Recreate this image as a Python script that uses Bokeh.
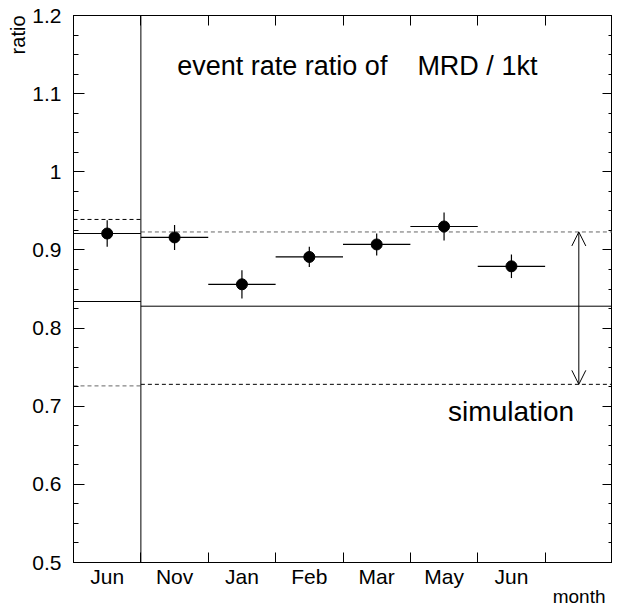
import numpy as np
from bokeh.plotting import figure
from bokeh.models import (Range1d, LinearAxis, FixedTicker, NumeralTickFormatter,
                          CustomJSTickFormatter, Span, Arrow, OpenHead, Label, Title)
from bokeh.embed import file_html
from bokeh.resources import INLINE

# ---------------- data ----------------
months = ["Jun", "Nov", "Jan", "Feb", "Mar", "May", "Jun"]
ratio = [0.921, 0.916, 0.856, 0.891, 0.907, 0.930, 0.879]
ratio_err = [0.017, 0.016, 0.018, 0.013, 0.014, 0.018, 0.015]

# simulation bands: first period (Jun) and later periods
period_start = [0, 1]
period_end = [1, 8]
sim_upper = [0.939, 0.923]
sim_central = [0.834, 0.828]
sim_lower = [0.726, 0.728]

y_ticks = [0.5, 0.6, 0.7, 0.8, 0.9, 1.0, 1.1, 1.2]

FONT = "Liberation Sans"

x = np.arange(len(months)) + 0.5
r = np.array(ratio)
e = np.array(ratio_err)

p = figure(width=612, height=606, x_range=Range1d(0, 8), y_range=Range1d(0.5, 1.2),
           output_backend="svg", toolbar_location=None,
           x_axis_type=None, y_axis_type=None,
           min_border_left=73, min_border_right=0, min_border_top=15, min_border_bottom=44)
p.xgrid.visible = False
p.ygrid.visible = False
p.outline_line_color = "black"
p.outline_line_width = 1
p.background_fill_color = "white"
p.border_fill_color = "white"

y_minor = list(np.round(np.arange(0.5, 1.2001, 0.025), 4))
bounds = list(range(1, 8))
blank = CustomJSTickFormatter(code="return ''")

# left axis
ly = LinearAxis(ticker=FixedTicker(ticks=y_ticks, minor_ticks=y_minor),
                formatter=NumeralTickFormatter(format="0.[0]"))
ly.major_tick_in = 11
ly.major_tick_out = 0
ly.minor_tick_in = 5
ly.minor_tick_out = 0
ly.major_label_standoff = 12
ly.major_label_text_font = FONT
ly.major_label_text_font_size = "21px"
ly.major_label_text_color = "black"
ly.axis_line_color = "black"
p.add_layout(ly, "left")

# right axis (ticks only)
ry = LinearAxis(ticker=FixedTicker(ticks=y_ticks, minor_ticks=y_minor), formatter=blank)
ry.major_tick_in = 10
ry.major_tick_out = 0
ry.minor_tick_in = 4
ry.minor_tick_out = 0
ry.major_label_standoff = 0
ry.major_label_text_font_size = "1px"
ry.axis_line_color = "black"
p.add_layout(ry, "right")

# bottom axis
bx = LinearAxis(ticker=FixedTicker(ticks=list(x), minor_ticks=bounds))
bx.major_label_overrides = {float(xx): m for xx, m in zip(x, months)}
bx.major_tick_in = 0
bx.major_tick_out = 0
bx.minor_tick_in = 10
bx.minor_tick_out = 0
bx.major_label_standoff = 2
bx.major_label_text_font = FONT
bx.major_label_text_font_size = "21px"
bx.major_label_text_color = "black"
bx.axis_line_color = "black"
p.add_layout(bx, "below")

# top axis (ticks only)
tx = LinearAxis(ticker=FixedTicker(ticks=[], minor_ticks=bounds), formatter=blank)
tx.major_tick_in = 0
tx.major_tick_out = 0
tx.minor_tick_in = 10
tx.minor_tick_out = 0
tx.major_label_standoff = 0
tx.major_label_text_font_size = "1px"
tx.axis_line_color = "black"
p.add_layout(tx, "above")

# axis titles
p.add_layout(Title(text="month", align="right", vertical_align="middle", offset=7, standoff=-12,
                   text_font=FONT, text_font_size="19px", text_font_style="normal",
                   text_color="black"), "below")
# empty spacer below the axis title so the title is not flush with the bottom edge
spacer = LinearAxis(ticker=FixedTicker(ticks=[]), formatter=blank)
spacer.axis_line_color = None
spacer.major_tick_in = 0
spacer.major_tick_out = 0
spacer.minor_tick_in = 0
spacer.minor_tick_out = 0
spacer.major_label_standoff = 5
spacer.major_label_text_font_size = "1px"
p.add_layout(spacer, "below")

p.add_layout(Title(text="ratio", align="right", offset=0, standoff=2,
                   text_font=FONT, text_font_size="20px", text_font_style="normal",
                   text_color="black"), "left")

# period separator
p.add_layout(Span(location=period_start[1], dimension="height",
                  line_color="black", line_width=1))

# simulation levels
p.segment(x0=period_start, x1=period_end, y0=sim_upper, y1=sim_upper,
          line_color=["black", "#666666"], line_width=1, line_dash="4 3")
p.segment(x0=period_start, x1=period_end, y0=sim_central, y1=sim_central,
          line_color="black", line_width=1)
p.segment(x0=period_start, x1=period_end, y0=sim_lower, y1=sim_lower,
          line_color=["#666666", "black"], line_width=1, line_dash="4 3")

# double arrow for simulation band
p.add_layout(Arrow(start=OpenHead(size=14, line_width=1), end=OpenHead(size=14, line_width=1),
                   x_start=7.5, y_start=sim_lower[1], x_end=7.5, y_end=sim_upper[1],
                   line_width=1, line_color="black"))

# data points with error bars
p.segment(x0=x - 0.5, x1=x + 0.5, y0=r, y1=r, line_color="black", line_width=1.2)
p.segment(x0=x, x1=x, y0=r - e, y1=r + e, line_color="black", line_width=1.2)
p.scatter(x=x, y=r, size=11, color="black")

# texts
p.add_layout(Label(x=1.54, y=1.136, text="event rate ratio of\u00a0\u00a0\u00a0 MRD / 1kt",
                   text_font=FONT, text_font_size="27px", text_baseline="alphabetic",
                   text_color="black"))
p.add_layout(Label(x=5.56, y=0.693, text="simulation",
                   text_font=FONT, text_font_size="28px", text_baseline="alphabetic",
                   text_color="black"))

open("out.html", "w").write(file_html(p, INLINE))
